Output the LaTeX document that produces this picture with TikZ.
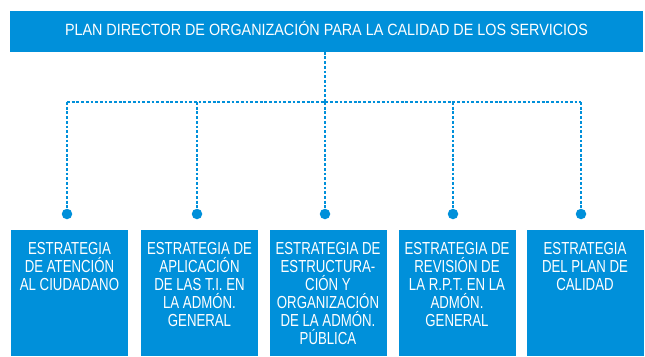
\documentclass[tikz,border=0pt]{standalone}
\usepackage{fontspec}
\setmainfont{Liberation Sans}
\newfontfamily\topfont[FakeStretch=0.88]{Liberation Sans}
\newfontfamily\boxfont[FakeStretch=0.76]{Liberation Sans}
\definecolor{brandblue}{RGB}{0,144,218}
\begin{document}
\begin{tikzpicture}[x=1pt,y=-1pt,
  topbox/.style={fill=brandblue, draw=none, minimum width=633pt, minimum height=40.5pt, inner sep=0pt,
    text=white, text height=11.7pt, text depth=2.9pt, font=\topfont\fontsize{16.3}{18}\selectfont},
  stratbox/.style={fill=brandblue, draw=none, minimum width=117pt, minimum height=126pt, inner sep=0pt, anchor=north},
  strattext/.style={text=white, align=center, inner sep=0pt, anchor=north,
    font=\boxfont\fontsize{17.4}{18}\selectfont},
  dot/.style={circle, fill=brandblue, draw=none, minimum size=10.5pt, inner sep=0pt},
  link/.style={draw=brandblue, line width=2.9pt, dash pattern=on 2.8pt off 1.9pt}
]
\useasboundingbox (0,0) rectangle (645,356);
\node[topbox] (top) at (326.5,31.3) {PLAN DIRECTOR DE ORGANIZACIÓN PARA LA CALIDAD DE LOS SERVICIOS};
\coordinate (hub) at (325,102);

\node[stratbox] (b1) at (69.5,230) {};
\node[stratbox] (b2) at (199.5,230) {};
\node[stratbox] (b3) at (328,230) {};
\node[stratbox] (b4) at (457,230) {};
\node[stratbox] (b5) at (585,230) {};

\node[strattext] (t1) at ([yshift=-12.5pt]b1.north) {ESTRATEGIA\\DE ATENCIÓN\\AL CIUDADANO};
\node[strattext] (t2) at ([yshift=-12.5pt]b2.north) {ESTRATEGIA DE\\APLICACIÓN\\DE LAS T.I. EN\\LA ADMÓN.\\GENERAL};
\node[strattext] (t3) at ([yshift=-12.5pt]b3.north) {ESTRATEGIA DE\\ESTRUCTURA-\\CIÓN Y\\ORGANIZACIÓN\\DE LA ADMÓN.\\PÚBLICA};
\node[strattext] (t4) at ([yshift=-12.5pt]b4.north) {ESTRATEGIA DE\\REVISIÓN DE\\LA R.P.T. EN LA\\ADMÓN.\\GENERAL};
\node[strattext] (t5) at ([yshift=-12.5pt]b5.north) {ESTRATEGIA\\DEL PLAN DE\\CALIDAD};

\node[dot] (d1) at (67,214) {};
\node[dot] (d2) at (197,214) {};
\node[dot] (d3) at (325,214) {};
\node[dot] (d4) at (453,214) {};
\node[dot] (d5) at (581,214) {};

\draw[link] (top.south -| hub) -- (hub);
\draw[link] (d1 |- hub) -- (d5 |- hub);
\foreach \i in {1,...,5} {
  \draw[link] (d\i |- hub) -- (d\i.center);
}
\end{tikzpicture}
\end{document}
